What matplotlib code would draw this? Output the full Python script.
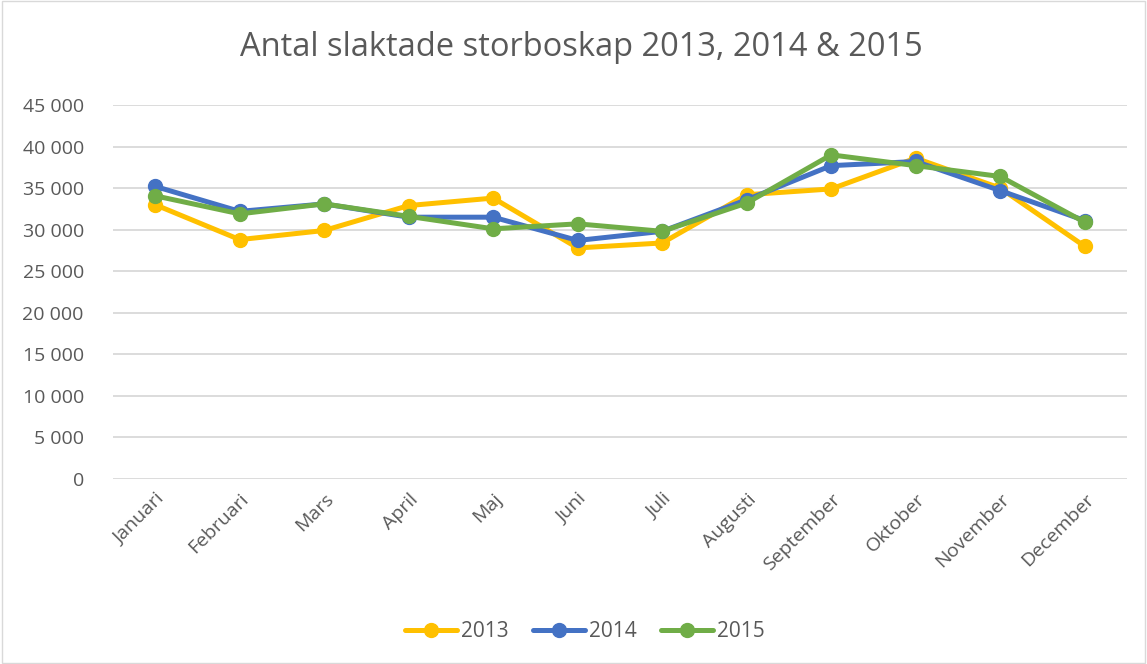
import matplotlib
matplotlib.use("Agg")
from matplotlib import pyplot as plt
from matplotlib.ticker import FuncFormatter
from matplotlib.patches import Rectangle

months = ["Januari", "Februari", "Mars", "April", "Maj", "Juni", "Juli",
          "Augusti", "September", "Oktober", "November", "December"]
y2013 = [33000, 28800, 29900, 32900, 33800, 27800, 28400, 34200, 34900, 38600, 35000, 28000]
y2014 = [35200, 32200, 33100, 31500, 31500, 28700, 29800, 33600, 37700, 38200, 34700, 31100]
y2015 = [34070, 31900, 33100, 31600, 30100, 30700, 29800, 33200, 39000, 37700, 36400, 30900]

COLORS = {"2013": "#FFC000", "2014": "#4472C4", "2015": "#70AD47"}
TEXT = "#595959"
GRID = "#D9D9D9"
FONT = "Open Sans"

plt.rcParams["font.family"] = [FONT, "DejaVu Sans"]

fig = plt.figure(figsize=(11.47, 6.64), dpi=100)
ax = fig.add_axes([0.0985, 0.2786, 0.884, 0.5633])

x = list(range(len(months)))
for label, vals in [("2013", y2013), ("2014", y2014), ("2015", y2015)]:
    ax.plot(x, vals, color=COLORS[label], linewidth=3.6, marker="o",
            markersize=10, label=label, solid_capstyle="round")

ax.set_xlim(-0.5, 11.5)
ax.set_ylim(0, 45000)
ax.set_yticks(range(0, 45001, 5000))
ax.yaxis.set_major_formatter(FuncFormatter(lambda v, p: f"{int(v):,}".replace(",", " ")))
ax.set_xticks(x)
ax.set_xticklabels(months, rotation=45, ha="right", rotation_mode="anchor")
ax.tick_params(axis="both", length=0, labelsize=14, colors=TEXT)
ax.tick_params(axis="y", pad=21)
ax.tick_params(axis="x", pad=8)
ax.grid(axis="y", color=GRID, linewidth=1.3)
ax.set_axisbelow(True)
for s in ax.spines.values():
    s.set_visible(False)

fig.text(0.507, 0.928, "Antal slaktade storboskap 2013, 2014 & 2015",
         ha="center", va="center", fontsize=23.5, color=TEXT)

fig.legend(loc="center", bbox_to_anchor=(0.51, 0.049), ncol=3, frameon=False,
           fontsize=15, labelcolor=TEXT, handlelength=2.5, handletextpad=0.2,
           columnspacing=1.15)

fig.patches.append(Rectangle((0.002, 0.002), 0.996, 0.996, transform=fig.transFigure,
                             fill=False, edgecolor=GRID, linewidth=1))

plt.savefig("out.png", dpi=100)
